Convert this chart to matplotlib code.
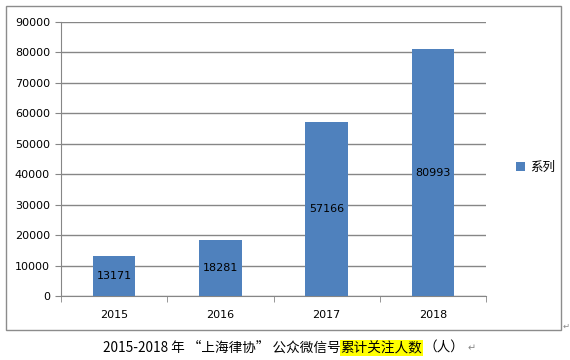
import matplotlib
matplotlib.use("Agg")
import matplotlib.pyplot as plt
from matplotlib.patches import Rectangle

plt.rcParams['font.family'] = ['DejaVu Sans', 'Noto Sans CJK SC']

years = ["2015", "2016", "2017", "2018"]
followers = [13171, 18281, 57166, 80993]
y_ticks = [0, 10000, 20000, 30000, 40000, 50000, 60000, 70000, 80000, 90000]
legend_label = "系列"
caption_parts = ["2015-2018 年 “上海律协” 公众微信号", "累计关注人数", "（人）"]

W, H = 570, 360
fig = plt.figure(figsize=(W / 100, H / 100), dpi=100)
fig.patch.set_facecolor("white")

# outer chart border
fig.add_artist(Rectangle((6 / W, 1 - 330 / H), (561 - 6) / W, (330 - 6) / H,
                         transform=fig.transFigure, fill=False,
                         edgecolor="#8c8c8c", linewidth=1.0))
fig.text(563 / W, 1 - 326 / H, "↵", fontsize=6, color="#888888", va="center", ha="left")

ax = fig.add_axes([61 / W, 1 - 296 / H, (486 - 61) / W, (296 - 22) / H])
x = list(range(len(years)))
bars = ax.bar(x, followers, width=0.4, color="#4F81BD", zorder=3, label=legend_label)
for xi, v in zip(x, followers):
    ax.text(xi, v / 2, str(v), ha="center", va="center", fontsize=8, color="black", zorder=4)

ax.set_xlim(-0.5, len(years) - 0.5)
ax.set_ylim(0, 90000)
ax.set_yticks(y_ticks)
ax.set_yticklabels([str(t) for t in y_ticks], fontsize=8)
ax.set_xticks(x)
ax.set_xticklabels(years, fontsize=8)
ax.tick_params(axis="x", length=0, pad=10)
ax.tick_params(axis="y", length=4, color="#868686", pad=4)
# category separator ticks
ax.set_xticks([i - 0.5 for i in range(len(years) + 1)], minor=True)
ax.tick_params(axis="x", which="minor", length=4, color="#868686")
ax.grid(axis="y", color="#868686", linewidth=1.0, zorder=0)
for s in ["top", "right"]:
    ax.spines[s].set_visible(False)
ax.spines["left"].set_color("#868686")
ax.spines["bottom"].set_color("#868686")

ax.legend(loc="center left", bbox_to_anchor=(505 / W, 1 - 167 / H),
          bbox_transform=fig.transFigure, frameon=False,
          prop={"family": ["Noto Sans CJK SC"], "size": 9},
          handlelength=0.7, handleheight=0.7, handletextpad=0.4)

# caption with highlighted segment
fig.canvas.draw()
renderer = fig.canvas.get_renderer()
cap_y = 1 - 348 / H
xpos = 103 / W
cap_fs = 9.8
t1 = fig.text(xpos, cap_y, caption_parts[0], fontsize=cap_fs, va="center",
              family=["Noto Sans CJK SC", "DejaVu Sans"])
fig.canvas.draw()
bb = t1.get_window_extent(renderer)
xpos = bb.x1 / W
t2 = fig.text(xpos, cap_y, caption_parts[1], fontsize=cap_fs, va="center",
              family=["Noto Sans CJK SC", "DejaVu Sans"],
              bbox=dict(facecolor="#FFFF00", edgecolor="none", pad=0.5))
fig.canvas.draw()
bb = t2.get_window_extent(renderer)
xpos = bb.x1 / W
t3 = fig.text(xpos + 1 / W, cap_y, caption_parts[2], fontsize=cap_fs, va="center",
              family=["Noto Sans CJK SC", "DejaVu Sans"])
fig.canvas.draw()
bb = t3.get_window_extent(renderer)
fig.text((bb.x1 + 3) / W, cap_y, "↵", fontsize=7, color="#888888", va="center")

fig.savefig("out.png", dpi=100, facecolor="white")
